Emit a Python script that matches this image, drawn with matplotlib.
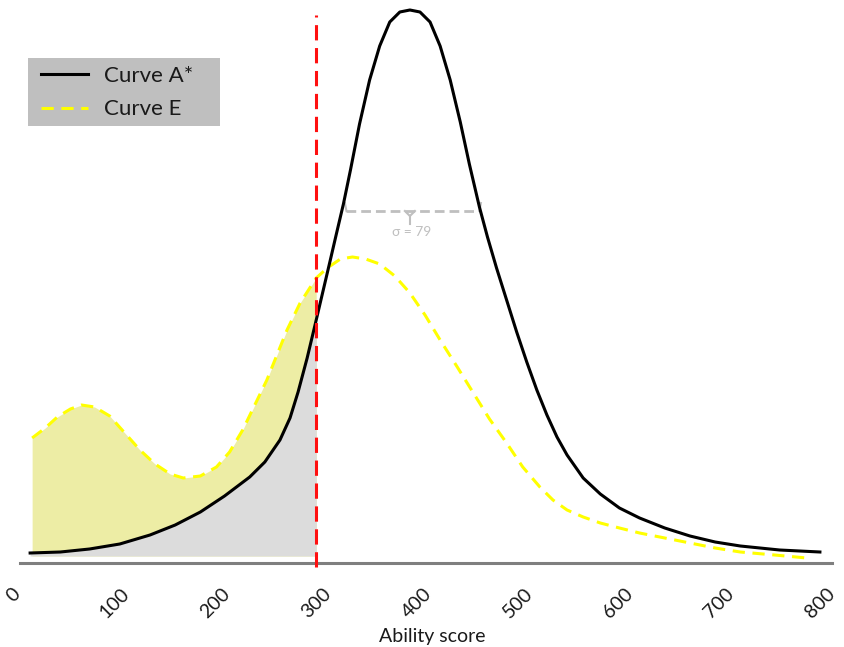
import numpy as np
import matplotlib.pyplot as plt
from matplotlib.patches import Rectangle

# Curve A* (black)
xa = [16, 46, 75, 105, 135, 160, 185, 209, 234, 249, 264, 274, 282, 291, 300, 307, 314, 320,
      327, 334, 343, 353, 363, 373, 383, 393, 403, 413, 423, 433, 443, 452, 462, 470, 479,
      489, 499, 509, 519, 529, 539, 549, 565, 582, 601, 621, 646, 671, 696, 721, 760, 800]
ya = [0.03, 0.04, 0.07, 0.12, 0.21, 0.31, 0.44, 0.60, 0.79, 0.94, 1.16, 1.38, 1.64, 1.98,
      2.36, 2.66, 2.96, 3.22, 3.52, 3.86, 4.32, 4.76, 5.10, 5.34, 5.44, 5.46, 5.44, 5.34,
      5.10, 4.76, 4.34, 3.92, 3.49, 3.19, 2.88, 2.56, 2.24, 1.94, 1.66, 1.41, 1.19, 1.01,
      0.78, 0.62, 0.48, 0.38, 0.28, 0.20, 0.14, 0.10, 0.06, 0.04]

# Curve E (yellow dashed)
xe = [18, 31, 43, 56, 67, 80, 95, 110, 125, 140, 155, 168, 185, 201, 214, 227, 239, 251,
      261, 271, 284, 300, 311, 324, 336, 349, 363, 378, 393, 408, 423, 440, 456, 472, 489,
      505, 522, 535, 549, 565, 582, 601, 621, 646, 671, 696, 721, 755, 787]
ye = [1.18, 1.28, 1.39, 1.47, 1.51, 1.49, 1.40, 1.23, 1.06, 0.92, 0.82, 0.78, 0.80, 0.89,
      1.04, 1.26, 1.51, 1.76, 2.01, 2.26, 2.53, 2.78, 2.88, 2.97, 2.99, 2.97, 2.92, 2.80,
      2.63, 2.41, 2.16, 1.89, 1.63, 1.37, 1.13, 0.89, 0.69, 0.56, 0.46, 0.39, 0.33, 0.28,
      0.23, 0.18, 0.13, 0.08, 0.04, 0.01, -0.02]

cut_score = 300
ticks = [0, 100, 200, 300, 400, 500, 600, 700, 800]
sigma_label = "σ = 79"

plt.rcParams['font.family'] = ['Lato', 'DejaVu Sans']

xa = np.array(xa)
ya = np.array(ya)
xe = np.array(xe)
ye = np.array(ye)

fig = plt.figure(figsize=(8.44, 6.47), dpi=100)
ax = fig.add_axes([14 / 844, 1 - 563 / 647, 818 / 844, 563 / 647])

# shaded areas left of the cut score
me = xe <= cut_score
ma = xa <= cut_score
ax.fill_between(xe[me], ye[me], 0, color='#EDEDA5', lw=0, zorder=1)
ax.fill_between(xa[ma], ya[ma], 0, color='#DCDCDC', lw=0, zorder=2)

ax.plot(xa, ya, color='black', lw=2.2, label='Curve A*', zorder=4)
ax.plot(xe, ye, color='#FFFF00', lw=2.2, ls=(0, (4, 2.5)), label='Curve E', zorder=3)

# cut score line
ax.plot([cut_score, cut_score], [-0.11, 5.41], color='#FF1010', lw=2.2,
        ls=(0, (5, 2.5)), zorder=5, clip_on=False)

# sigma bracket
gray = '#BFBFBF'
ax.plot([330, 462], [3.45, 3.45], color=gray, lw=2, ls=(0, (3.5, 1.8)), zorder=3)
ax.plot([328.5, 330], [3.53, 3.45], color=gray, lw=1.5)
ax.plot([463.5, 462], [3.53, 3.45], color=gray, lw=1.5)
ax.plot([388, 393, 398], [3.45, 3.40, 3.45], color=gray, lw=1.5)
ax.plot([393, 393], [3.40, 3.32], color=gray, lw=1.5)
ax.text(395, 3.24, sigma_label, color=gray, fontsize=10, ha='center', va='center')

ax.set_xlim(0, 812)
ax.set_ylim(-0.07, 5.56)

for s in ['top', 'right', 'left']:
    ax.spines[s].set_visible(False)
ax.spines['bottom'].set_color('#7F7F7F')
ax.spines['bottom'].set_linewidth(2.2)
ax.spines['bottom'].set_bounds(6, 812)
ax.set_yticks([])
ax.set_xticks(ticks)
ax.set_xticklabels([str(t) for t in ticks], rotation=45, ha='center', va='top',
                   fontsize=14, color='#1a1a1a')
ax.tick_params(axis='x', length=0, pad=16)
ax.set_xlabel('Ability score', fontsize=14, color='#1a1a1a')
ax.xaxis.set_label_coords(0.511, -0.115)

# legend box
ax.add_patch(Rectangle((28 / 844, 1 - 126 / 647), 192 / 844, 68 / 647,
                       transform=fig.transFigure, facecolor='#BFBFBF',
                       edgecolor='none', zorder=6, clip_on=False))
leg = ax.legend(loc='upper left', bbox_to_anchor=(41 / 844, 1 - 66 / 647),
                bbox_transform=fig.transFigure, borderaxespad=0, fontsize=16,
                frameon=False, handlelength=2.1, handletextpad=0.75, labelspacing=0.6,
                borderpad=0)
leg.set_zorder(7)
for t in leg.get_texts():
    t.set_color('#1a1a1a')

fig.savefig('out.png', dpi=100)
